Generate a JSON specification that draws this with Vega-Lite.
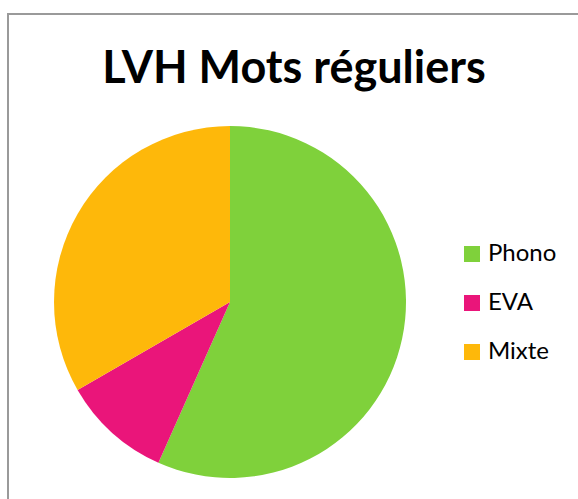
{
  "$schema": "https://vega.github.io/schema/vega-lite/v6.json",
  "autosize": {"type": "none"},
  "width": 580,
  "height": 495,
  "padding": {"left": 8, "top": 14, "right": -10, "bottom": -10},
  "background": "white",
  "view": {"stroke": "#9a9a9a", "strokeWidth": 2, "fill": null},
  "title": {
    "text": "LVH Mots réguliers",
    "font": "Lato",
    "fontSize": 45,
    "fontWeight": "bold",
    "color": "#000000",
    "anchor": "middle",
    "baseline": "alphabetic",
    "offset": 0,
    "dy": 114,
    "dx": -4
  },
  "data": {
    "values": [
      {"categorie": "Phono", "valeur": 17, "ordre": 1},
      {"categorie": "EVA", "valeur": 3, "ordre": 2},
      {"categorie": "Mixte", "valeur": 10, "ordre": 3}
    ]
  },
  "mark": {"type": "arc", "radius": 176, "x": 222, "y": 288, "stroke": null},
  "encoding": {
    "theta": {"field": "valeur", "type": "quantitative", "stack": true},
    "order": {"field": "ordre", "type": "quantitative"},
    "color": {
      "field": "categorie",
      "type": "nominal",
      "scale": {"domain": ["Phono", "EVA", "Mixte"], "range": ["#7fd13b", "#ea157a", "#feb80a"]},
      "legend": {
        "title": null,
        "orient": "none",
        "legendX": 452,
        "legendY": 228,
        "padding": 0,
        "symbolType": "square",
        "symbolSize": 256,
        "symbolStrokeWidth": 0,
        "symbolOpacity": 1,
        "labelFont": "Lato",
        "labelFontSize": 24,
        "labelColor": "#000000",
        "labelOffset": 4,
        "rowPadding": 25
      }
    }
  },
  "config": {
    "view": {"stroke": "#9a9a9a", "strokeWidth": 2}
  }
}
